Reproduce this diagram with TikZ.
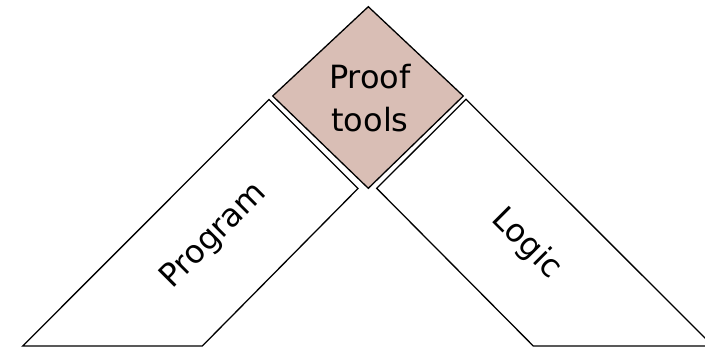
\documentclass[tikz,border=0pt]{standalone}
\usepackage{fontspec}
\setmainfont{DejaVu Sans}
\begin{document}
\begin{tikzpicture}[x=1pt,y=-1pt,
  outline/.style={draw=black,line width=1.3pt,line join=miter},
  toolbox/.style={outline,fill=toolfill},
  label/.style={font=\fontsize{32}{43.4}\selectfont,inner sep=0pt,text=black}]
\definecolor{toolfill}{RGB}{217,190,181}
\useasboundingbox (0,0) rectangle (705,350);
\clip (0,0) rectangle (705,350);

% left band
\draw[outline] (22.7,346) -- (269,99.5) -- (358,188.5) -- (202.3,346) -- cycle;
% right band
\draw[outline] (376.7,188.3) -- (466,99.3) -- (713,346) -- (533.3,346) -- cycle;
% central diamond
\draw[toolbox] (368.3,6.7) -- (463.3,96) -- (368.3,188.3) -- (272.7,96) -- cycle;

% the base anchor of a two-line node sits on its last baseline
\node[label,align=center,anchor=base] (tools) at (370,131.7) {Proof\\tools};
\node[label,rotate=45,anchor=base] (program) at (220,242) {Program};
\node[label,rotate=-45,anchor=base] (logic) at (520.3,250.3) {Logic};
\end{tikzpicture}
\end{document}
